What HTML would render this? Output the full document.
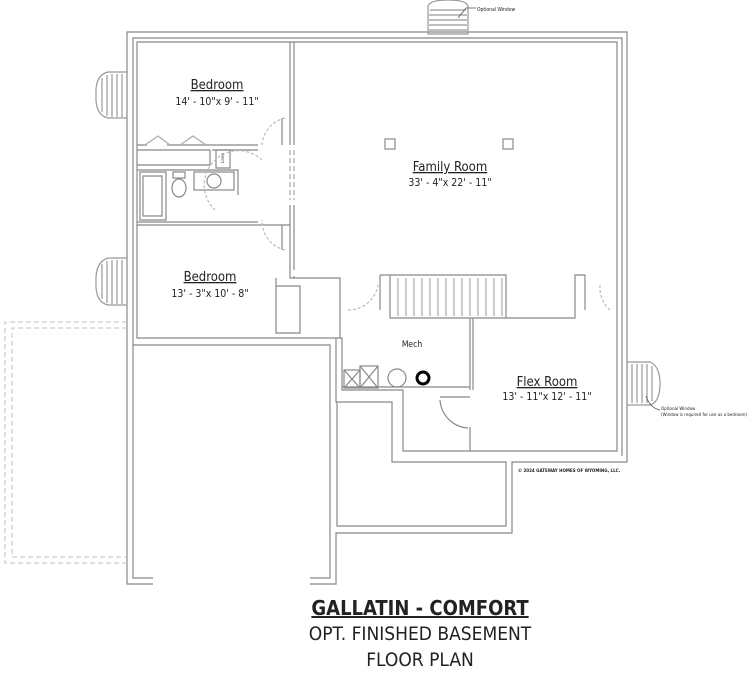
<!DOCTYPE html>
<html><head><style>
html,body{margin:0;padding:0;background:#fff;}
svg{display:block;}
text{font-family:"DejaVu Sans Condensed","Liberation Sans Narrow","Liberation Sans",sans-serif;fill:#222;}
</style></head><body>
<svg width="750" height="677" viewBox="0 0 750 677" xmlns="http://www.w3.org/2000/svg">
<g fill="none" stroke="#888" stroke-width="1.2">
<path d="M153,584 H127 V32 H627 V462 H512 V533 H336 V584 H310"/>
<path d="M153,578 H133 V38 H622 V456"/>
<path d="M137,42 H617 V451 H403 V390 H342 V338 H137 Z"/>
<path d="M133,345 H330 V578 H310"/>
<path d="M336,338 V402 H392 V462 H506 V526 H337 V402"/>
<path d="M290,42 V145 M294,42 V145 M290,205 V270 M294,205 V270 M290,270 V278 H340 V338 M294,278 V276"/>
<path d="M290,150 V200 M294,150 V200" stroke="#aaa" stroke-dasharray="5,3"/>
<path d="M276,278 V333 H300 V286 H276"/>
<path d="M137,145 H147 M167,145 H258 M137,150 H210 M212,150 H258 M137,165 H210 V150 M137,170 H238 V195 M137,222 H258 M137,225 H290"/>
<path d="M216,150 H230 V168 H216 Z"/>
<path d="M140,172 H166 V220 H140 Z M143,176 H162 V216 H143 Z"/>
<ellipse cx="179" cy="188" rx="7" ry="9"/>
<rect x="173" y="172" width="12" height="6"/>
<rect x="194" y="172" width="40" height="18"/>
<circle cx="214" cy="181" r="7"/>
<path d="M145,145 L158,136 L170,145 M180,145 L193,136 L206,145" stroke="#aaa"/>
<path d="M285,118 A30,30 0 0,0 262,145 M285,250 A30,30 0 0,1 262,220 M262,160 A30,30 0 0,0 215,210" stroke="#bbb" stroke-dasharray="3,2"/>
<path d="M282,118 V145 M282,225 V250" />
<rect x="385" y="139" width="10" height="10"/>
<rect x="503" y="139" width="10" height="10"/>
<path d="M380,275 H390 V318 H575 V275 H585 M390,275 H506 V318 M380,275 V310 M585,275 V310"/>
<path d="M398,278 V316 M406,278 V316 M414,278 V316 M422,278 V316 M430,278 V316 M438,278 V316 M446,278 V316 M454,278 V316 M462,278 V316 M470,278 V316 M478,278 V316 M486,278 V316 M494,278 V316 M502,278 V316" stroke="#aaa"/>
<path d="M473,318 V390 M470,318 V390 M342,387 H470"/>
<path d="M348,310 A30,30 0 0,0 378,285 M600,285 A30,30 0 0,0 610,310" stroke="#bbb" stroke-dasharray="3,2"/>
<rect x="344" y="370" width="16" height="18"/><rect x="360" y="366" width="18" height="22"/>
<path d="M344,370 L360,388 M360,370 L344,388 M360,366 L378,388 M378,366 L360,388"/>
<circle cx="397" cy="378" r="9"/>
<circle cx="423" cy="378" r="6" stroke="#000" stroke-width="3"/>
<path d="M440,397 H470 M470,427 V451 M440,400 A30,30 0 0,0 468,428" />
<g stroke="#999">
<path d="M127,72 H108 Q95,75 96,95 Q95,115 108,118 H127 Z"/>
<path d="M102,78 V112 M107,75 V116 M112,74 V117 M117,74 V117 M122,74 V117"/>
<path d="M127,258 H108 Q95,262 96,282 Q95,302 108,305 H127 Z"/>
<path d="M102,264 V299 M107,261 V303 M112,260 V304 M117,260 V304 M122,260 V304"/>
<path d="M428,34 V6 Q430,0 448,0 Q466,0 468,6 V34 Z"/>
<path d="M430,10 H466 M429,15 H467 M429,20 H467 M429,25 H467 M429,30 H467"/>
<path d="M627,362 H650 Q660,366 660,384 Q660,402 650,405 H627 Z"/>
<path d="M632,364 V403 M637,364 V403 M642,364 V403 M647,364 V403 M652,366 V401"/>
<path d="M458,18 L466,8 H476 M646,396 Q650,408 660,410" stroke="#555" stroke-width="0.8"/>
</g>
<path d="M127,322 H5 V563 H127 M127,328 H12 V557 H127" stroke="#ccc" stroke-dasharray="5,3"/>
</g>
<g text-anchor="middle">
<text x="217" y="89" font-size="13" text-decoration="underline">Bedroom</text>
<text x="217" y="105" font-size="10.5">14' - 10"x 9' - 11"</text>
<text x="210" y="281" font-size="13" text-decoration="underline">Bedroom</text>
<text x="210" y="297" font-size="10.5">13' - 3"x 10' - 8"</text>
<text x="450" y="171" font-size="13" text-decoration="underline">Family Room</text>
<text x="450" y="186" font-size="10.5">33' - 4"x 22' - 11"</text>
<text x="412" y="347" font-size="8.5">Mech</text>
<text x="547" y="386" font-size="13" text-decoration="underline">Flex Room</text>
<text x="547" y="400" font-size="10.5">13' - 11"x 12' - 11"</text>
<text x="420" y="615" font-size="20" font-weight="bold" font-family="Liberation Sans,sans-serif" text-decoration="underline">GALLATIN - COMFORT</text>
<text x="420" y="640" font-size="19">OPT. FINISHED BASEMENT</text>
<text x="420" y="666" font-size="19">FLOOR PLAN</text>
</g>
<text x="477" y="11" font-size="5">Optional Window</text>
<text x="661" y="410" font-size="4.5">Optional Window</text>
<text x="661" y="416" font-size="4.5" textLength="86" lengthAdjust="spacingAndGlyphs">(Window is required for use as a bedroom)</text>
<text x="518" y="472" font-size="4.5" font-weight="bold">© 2024 GATEWAY HOMES OF WYOMING, LLC.</text>
<text x="219" y="160" font-size="4" transform="rotate(-90 223 159)">Linen</text>
</svg>
</body></html>
